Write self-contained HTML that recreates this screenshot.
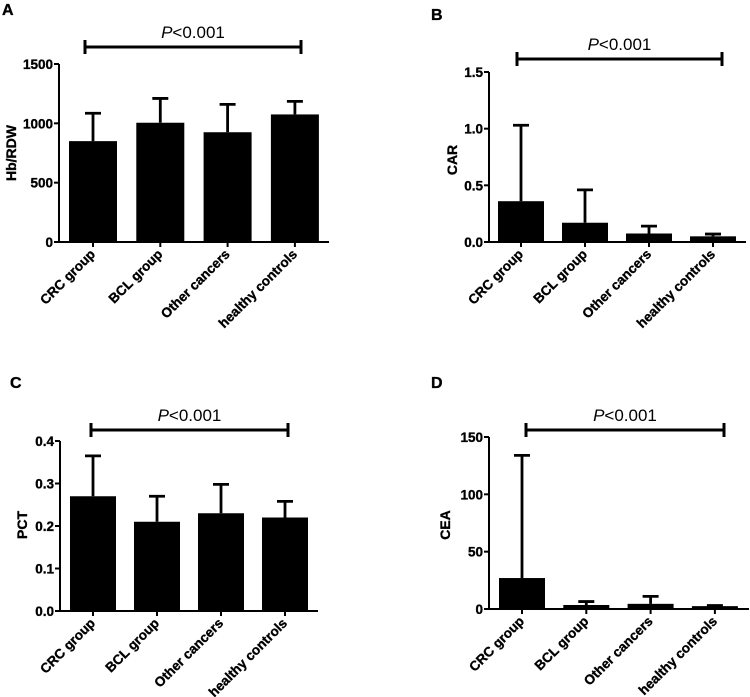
<!DOCTYPE html>
<html><head><meta charset="utf-8"><style>
body{margin:0;background:#fff;}
svg{display:block;font-family:"Liberation Sans",Arial,sans-serif;}
text.b{font-weight:bold;stroke:#000;stroke-width:0.35px;}
</style></head><body>
<svg id="fig" width="750" height="697" viewBox="0 0 750 697"></svg>
<script>
const categories = ["CRC group","BCL group","Other cancers","healthy controls"];
const hbMeans = [850, 1005, 925, 1075];
const hbErr = [1085, 1210, 1160, 1185];
const hbTicks = ["0","500","1000","1500"];
const carMeans = [0.36, 0.17, 0.075, 0.05];
const carErr = [1.03, 0.46, 0.14, 0.07];
const carTicks = ["0.0","0.5","1.0","1.5"];
const pctMeans = [0.27, 0.21, 0.23, 0.22];
const pctErr = [0.365, 0.27, 0.298, 0.258];
const pctTicks = ["0.0","0.1","0.2","0.3","0.4"];
const ceaMeans = [27, 3.5, 4.5, 2.5];
const ceaErr = [134, 6.5, 11, 3];
const ceaTicks = ["0","50","100","150"];

const NS = "http://www.w3.org/2000/svg";
const svg = document.getElementById("fig");
function mk(tag, attrs, parent, text){
  const e = document.createElementNS(NS, tag);
  for (const k in attrs) e.setAttribute(k, attrs[k]);
  if (text !== undefined) e.textContent = text;
  (parent||svg).appendChild(e);
  return e;
}

function panel(cfg){
  const g = mk("g", {});
  
  
  const ymax = parseFloat(cfg.ticks[cfg.ticks.length-1]);
  const y = v => cfg.y0 - (v/ymax)*(cfg.y0-cfg.yTop);
  const x = i => cfg.c0 + i*cfg.step;
  const L = mk("text", {class:"b", x:cfg.letter[0], y:cfg.letter[1], "font-size":16}, g, cfg.letterText);
  
  
  cfg.means.forEach((m,i)=>{
    const b = mk("rect", {x:x(i)-cfg.bw/2, y:y(m), width:cfg.bw, height:cfg.y0-y(m), fill:"#000"}, g);
    
    
    const e = mk("path", {d:`M${x(i)},${y(m)}V${y(cfg.err[i])}M${x(i)-8},${y(cfg.err[i])}H${x(i)+8}`, stroke:"#000", "stroke-width":2.8, fill:"none"}, g);
    
    
  });
  const ax = mk("path", {d:`M${cfg.ax},${cfg.yTop}V${cfg.y0}H${cfg.axR}`, stroke:"#000", "stroke-width":2, fill:"none"}, g);
  
  
  cfg.ticks.forEach(t=>{
    const v = parseFloat(t), yy = y(v);
    mk("line", {x1:cfg.ax-5, x2:cfg.ax, y1:yy, y2:yy, stroke:"#000", "stroke-width":2}, g);
    const tl = mk("text", {class:"b", x:cfg.ax-6, y:yy+5, "font-size":13.5, "text-anchor":"end"}, g, t);
    
    
  });
  categories.forEach((c,i)=>{
    mk("line", {x1:x(i), x2:x(i), y1:cfg.y0, y2:cfg.y0+5, stroke:"#000", "stroke-width":2}, g);
    const tl = mk("text", {class:"b", x:x(i)+3, y:cfg.y0+13, "font-size":13.5, "text-anchor":"end", transform:`rotate(-45 ${x(i)+3} ${cfg.y0+13})`}, g, c);
    
    
  });
  const yl = mk("text", {class:"b", x:cfg.ylab[0], y:cfg.ylab[1], "font-size":14, "text-anchor":"middle", transform:`rotate(-90 ${cfg.ylab[0]} ${cfg.ylab[1]})`}, g, cfg.ytitle);
  
  
  const [bx1,bx2,by] = cfg.br;
  const br = mk("path", {d:`M${bx1},${by-7}V${by+7}M${bx1},${by}H${bx2}M${bx2},${by-7}V${by+7}`, stroke:"#000", "stroke-width":3, fill:"none"}, g);
  
  
  const pt = mk("text", {x:(bx1+bx2)/2, y:by-9, "font-size":17, "text-anchor":"middle"}, g);
  
  
  mk("tspan", {"font-style":"italic"}, pt, "P");
  mk("tspan", {}, pt, "<0.001");
}

panel({name:"panel-a", letterText:"A", letter:[2,15], means:hbMeans, err:hbErr, ticks:hbTicks, ytitle:"Hb/RDW",
  ax:59, axR:329, y0:242, yTop:64, c0:93, step:67.3, bw:48, ylab:[16,153], br:[85,301,47]});
panel({name:"panel-b", letterText:"B", letter:[431,20], means:carMeans, err:carErr, ticks:carTicks, ytitle:"CAR",
  ax:489, axR:746, y0:242, yTop:72, c0:521, step:64, bw:46, ylab:[457,160], br:[517,722,59]});
panel({name:"panel-c", letterText:"C", letter:[10,388], means:pctMeans, err:pctErr, ticks:pctTicks, ytitle:"PCT",
  ax:60, axR:318, y0:611, yTop:441, c0:93, step:64, bw:46, ylab:[27,525], br:[91,288,430]});
panel({name:"panel-d", letterText:"D", letter:[431,388], means:ceaMeans, err:ceaErr, ticks:ceaTicks, ytitle:"CEA",
  ax:489, axR:749, y0:609, yTop:437, c0:522, step:64.3, bw:46, ylab:[450,525], br:[526,724,430]});
</script>
</body></html>
